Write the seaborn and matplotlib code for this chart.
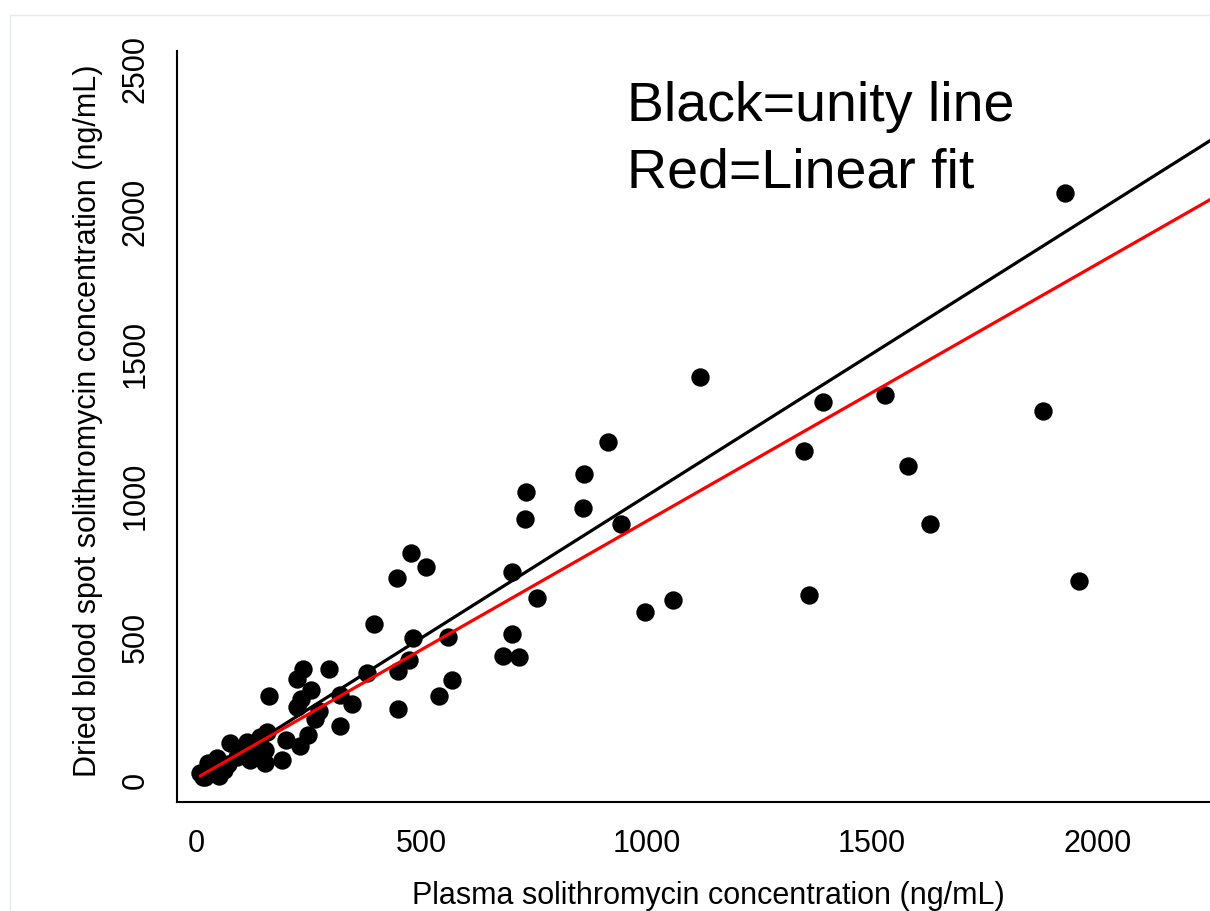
"""
Dried blood spot vs plasma solithromycin concentration
Output: out.png
"""
import matplotlib
matplotlib.use('Agg')
import matplotlib.pyplot as plt
import seaborn as sns
import numpy as np

sns.set_style('white')
plt.rcParams['font.family'] = ['Liberation Sans', 'DejaVu Sans']
plt.rcParams.update({'text.color': 'black', 'axes.labelcolor': 'black',
                     'xtick.color': 'black', 'ytick.color': 'black'})

# --- data (ng/mL) ---
plasma = [1928, 1119, 1390, 1529, 1879, 914, 1349, 1579, 1628, 1359, 1959,
          861, 858, 733, 729, 942, 701, 757, 997, 1059, 702, 680, 716,
          478, 510, 446, 395, 481, 560, 238, 225, 296, 380, 473, 449, 567,
          539, 449, 162, 255, 234, 225, 319, 346, 272, 265, 319, 249,
          231, 199, 190, 158, 153, 142, 112, 75, 120, 90, 46, 27, 61, 35,
          9, 20, 50, 153, 131, 100, 70, 40, 15]
dbs = [2065, 1417, 1329, 1355, 1298, 1188, 1157, 1106, 902, 650, 700,
       1078, 956, 1015, 918, 902, 733, 640, 591, 632, 513, 437, 434,
       800, 751, 710, 548, 499, 502, 389, 355, 390, 378, 422, 385, 352,
       297, 251, 297, 317, 285, 256, 300, 267, 243, 213, 191, 160,
       120, 141, 70, 170, 60, 150, 132, 129, 72, 80, 76, 59, 35, 23,
       26, 12, 15, 106, 95, 110, 55, 45, 10]

fit_intercept = 6.0
fit_slope = 0.905
line_x = np.array([min(plasma), 2400])

x_ticks = [0, 500, 1000, 1500, 2000]
y_ticks = [0, 500, 1000, 1500, 2000, 2500]

W, H = 1210, 911
fig = plt.figure(figsize=(W / 100, H / 100), dpi=100)
# axes run past the right edge of the picture, as in the original crop
ax = fig.add_axes([176.5 / W, (H - 802) / H, (1240 - 176.5) / W, (802 - 51) / H])

sns.scatterplot(x=plasma, y=dbs, ax=ax, color='black', s=175, linewidth=0, zorder=2)
ax.plot(line_x, line_x, color='black', lw=2.3, zorder=3)
ax.plot(line_x, fit_intercept + fit_slope * line_x, color='#ff0000', lw=2.3, zorder=3)

ax.set_xlim(-43.3, 2316)
ax.set_ylim(-77.4, 2565)
ax.set_xticks(x_ticks)
ax.set_yticks(y_ticks)
ax.set_xticklabels([str(t) for t in x_ticks], fontsize=22)
ax.set_yticklabels([str(t) for t in y_ticks], fontsize=22, rotation=90, va='center')
ax.tick_params(axis='both', length=8.6, width=1.3, color='black', direction='out')
ax.tick_params(axis='x', pad=11)
ax.tick_params(axis='y', pad=10)

for side in ['top', 'right']:
    ax.spines[side].set_visible(False)
for side in ['left', 'bottom']:
    ax.spines[side].set_color('black')
    ax.spines[side].set_linewidth(1.5)

ax.set_xlabel('Plasma solithromycin concentration (ng/mL)', fontsize=22)
ax.set_ylabel('Dried blood spot solithromycin concentration (ng/mL)', fontsize=22)
ax.xaxis.set_label_coords(0.5, -0.105)
ax.yaxis.set_label_coords(-0.069, 0.508)

fig.text(627 / W, 1 - 120.7 / H, 'Black=unity line', fontsize=40, va='baseline', ha='left')
fig.text(627 / W, 1 - 187.3 / H, 'Red=Linear fit', fontsize=40, va='baseline', ha='left')

# faint outer frame of the graph region
frame = plt.Rectangle((10 / W, -0.1), 2.0, 1 - 15 / H + 0.1, transform=fig.transFigure,
                      fill=False, edgecolor='#e4ecec', lw=1)
fig.add_artist(frame)

plt.savefig('out.png', dpi=100, facecolor='white')
plt.close()
